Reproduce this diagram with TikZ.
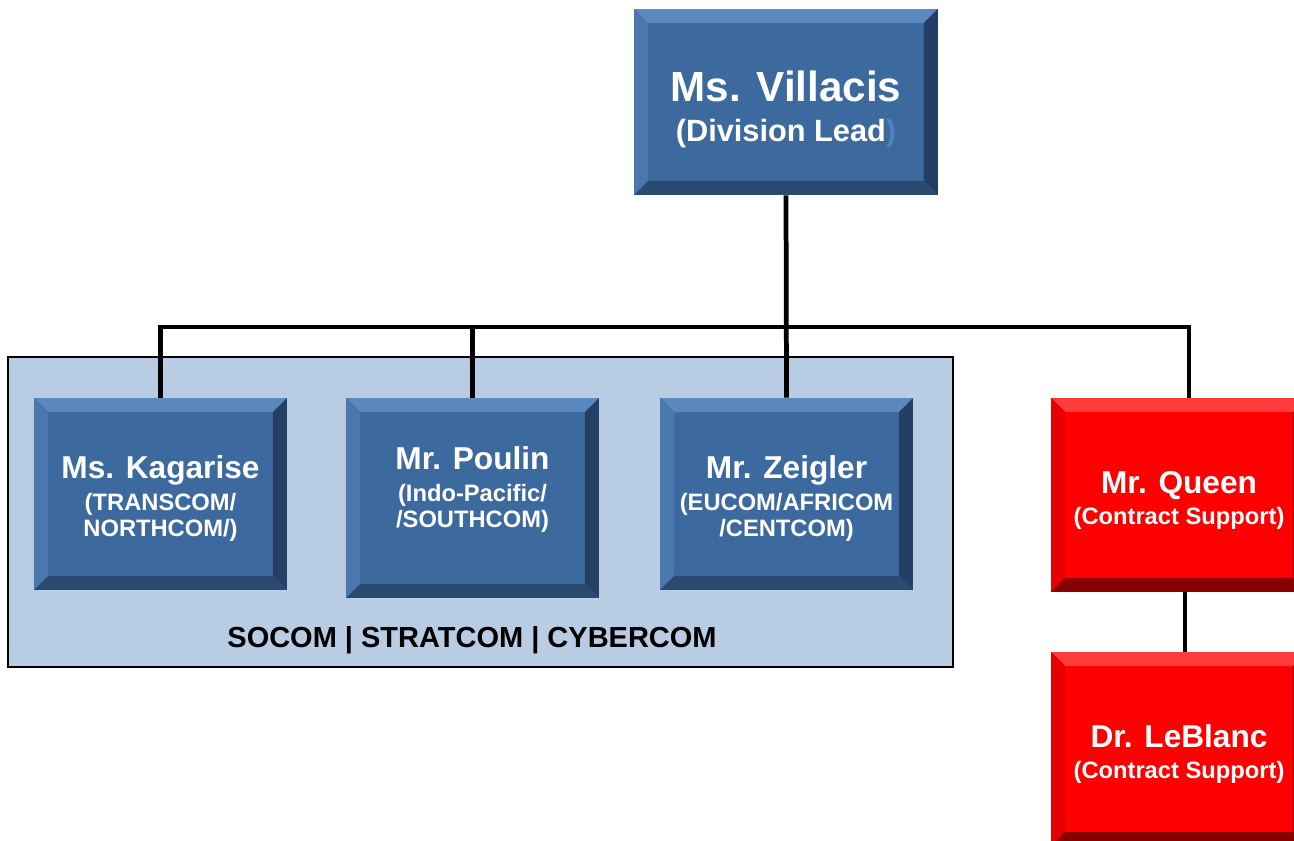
\documentclass[tikz,border=0pt]{standalone}
\usepackage{fontspec}
\setmainfont{Liberation Sans}
\usetikzlibrary{positioning}

\definecolor{boxblue}{HTML}{3D6A9E}
\definecolor{bluetop}{HTML}{5C88C0}
\definecolor{blueleft}{HTML}{4A77AE}
\definecolor{blueright}{HTML}{243F63}
\definecolor{bluebottom}{HTML}{2A4A72}
\definecolor{boxred}{HTML}{FF0000}
\definecolor{redtop}{HTML}{FF3B3B}
\definecolor{redleft}{HTML}{E60000}
\definecolor{redright}{HTML}{AA0000}
\definecolor{redbottom}{HTML}{880000}
\definecolor{panelblue}{HTML}{B8CCE4}
\definecolor{parenblue}{HTML}{4F81BD}

\def\bw{0.28cm}
\newcommand{\drawbevel}[4]{%
	\path (path picture bounding box.north west) coordinate (nw)
		(path picture bounding box.north east) coordinate (ne)
		(path picture bounding box.south west) coordinate (sw)
		(path picture bounding box.south east) coordinate (se);
	\fill[#1] (nw) -- (ne) -- ([shift={(-\bw,-\bw)}]ne) -- ([shift={(\bw,-\bw)}]nw) -- cycle;
	\fill[#2] (nw) -- (sw) -- ([shift={(\bw,\bw)}]sw) -- ([shift={(\bw,-\bw)}]nw) -- cycle;
	\fill[#3] (ne) -- (se) -- ([shift={(-\bw,\bw)}]se) -- ([shift={(-\bw,-\bw)}]ne) -- cycle;
	\fill[#4] (sw) -- (se) -- ([shift={(-\bw,\bw)}]se) -- ([shift={(\bw,\bw)}]sw) -- cycle;
}

\tikzstyle{every node}=[inner sep=0pt,align=center,text=white,font=\bfseries\fontsize{13.5}{15}\selectfont]
\tikzstyle{bluebox}=[rectangle,fill=boxblue,minimum width=5.06cm,minimum height=3.84cm,
	path picture={\drawbevel{bluetop}{blueleft}{blueright}{bluebottom}}]
\tikzstyle{redbox}=[rectangle,fill=boxred,minimum width=5.12cm,minimum height=3.88cm,
	path picture={\drawbevel{redtop}{redleft}{redright}{redbottom}}]
\tikzstyle{panel}=[rectangle,fill=panelblue,draw=black,line width=0.8pt,minimum width=18.9cm,minimum height=6.2cm]
\tikzstyle{link}=[line width=2.7pt,black]
\newcommand{\nm}[1]{{\fontsize{18}{20}\selectfont\rule{0pt}{18.7pt}#1}\\[3pt]}

\begin{document}
\begin{tikzpicture}[x=0.02cm,y=-0.02cm]
	\useasboundingbox (0,0) rectangle (1294,841);
	\clip (0,0) rectangle (1294,841);

	\node[panel] (panel) at (480.5,512) {};
	\node[text=black,font=\bfseries\fontsize{16.5}{18}\selectfont] (socom) at (472,640) {SOCOM | STRATCOM | CYBERCOM};

	\node[bluebox,minimum width=6.08cm,minimum height=3.72cm] (villacis) at (786,102)
		{{\fontsize{24}{26}\selectfont\rule{0pt}{25.5pt}Ms. Villacis}\\[8pt]{\fontsize{17.5}{19}\selectfont (Division Lead\textcolor{parenblue}{)}}};
	\node[bluebox] (kagarise) at (160.5,494) {\nm{Ms. Kagarise}(TRANSCOM/\\NORTHCOM/)};
	\node[bluebox,minimum height=4cm,text depth=17.6pt] (poulin) at (472.5,498) {\nm{Mr. Poulin}(Indo-Pacific/\\/SOUTHCOM)};
	\node[bluebox] (zeigler) at (786.5,494) {\nm{Mr. Zeigler}(EUCOM/AFRICOM\\/CENTCOM)};
	\node[redbox] (queen) at (1179,495) {\nm{Mr. Queen}(Contract Support)};
	\node[redbox] (leblanc) at (1179,749) {\nm{Dr. LeBlanc}(Contract Support)};

	\coordinate (bus) at (786,327);
	\draw[link] (villacis.south) -- (zeigler.north);
	\draw[link] (kagarise.north) |- (bus) -| ([xshift=0.2cm]queen.north);
	\draw[link] (poulin.north) -- (poulin.north |- bus);
	\draw[link] ([xshift=0.12cm]queen.south) -- ([xshift=0.12cm]leblanc.north);
\end{tikzpicture}
\end{document}
